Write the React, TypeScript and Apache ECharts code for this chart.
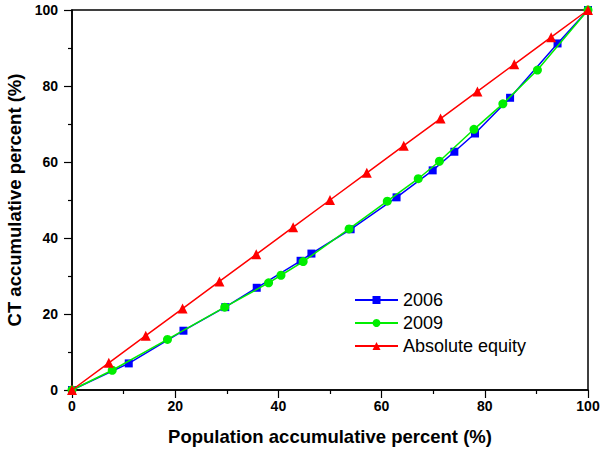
import React, { useEffect, useRef } from "react";
import * as echarts from "echarts";

const seriesNames = ["2006", "2009", "Absolute equity"];

const data2006: [number, number][] = [
  [0, 0], [11.0, 7.0], [21.6, 15.6], [29.7, 21.8], [35.8, 26.9], [44.3, 34.0],
  [46.4, 35.9], [54.0, 42.3], [62.9, 50.7], [69.9, 57.8], [74.1, 62.7],
  [78.1, 67.5], [84.9, 76.9], [94.1, 91.2], [100, 100],
];

const data2009: [number, number][] = [
  [0, 0], [7.8, 5.2], [18.5, 13.3], [29.6, 21.8], [38.1, 28.2], [40.5, 30.2],
  [44.8, 33.8], [53.7, 42.4], [61.1, 49.7], [67.1, 55.6], [71.2, 60.2],
  [77.9, 68.6], [83.5, 75.3], [90.2, 84.2], [100, 100],
];

const dataEquity: [number, number][] = [
  [0, 0], [7.14, 7.14], [14.29, 14.29], [21.43, 21.43], [28.57, 28.57],
  [35.71, 35.71], [42.86, 42.86], [50, 50], [57.14, 57.14], [64.29, 64.29],
  [71.43, 71.43], [78.57, 78.57], [85.71, 85.71], [92.86, 92.86], [100, 100],
];

const xTitle = "Population accumulative percent (%)";
const yTitle = "CT accumulative percent (%)";

export default function App() {
  const ref = useRef<HTMLDivElement>(null);
  useEffect(() => {
    if (!ref.current) return;
    const chart = echarts.init(ref.current, null, { renderer: "svg" });
    const font = "'Liberation Sans', Arial, sans-serif";
    const axisCommon = {
      min: 0,
      max: 100,
      interval: 20,
      axisLine: { show: true, lineStyle: { color: "#000", width: 1.5 } },
      axisTick: { show: true, inside: false, length: 8, lineStyle: { color: "#000", width: 1.2 } },
      minorTick: { show: true, splitNumber: 2, length: 4, lineStyle: { color: "#000", width: 1.2 } },
      splitLine: { show: false },
      axisLabel: { color: "#000", fontFamily: font, fontWeight: "bold", fontSize: 14 },
      nameLocation: "middle" as const,
      nameTextStyle: { color: "#000", fontFamily: font, fontWeight: "bold", fontSize: 18.5 },
    };
    chart.setOption({
      animation: false,
      backgroundColor: "#fff",
      grid: {
        left: 72, right: 12, top: 10, bottom: 60,
        containLabel: false,
        outerBoundsMode: "none",
        show: true, borderColor: "#000", borderWidth: 1.5,
      },
      legend: {
        orient: "vertical",
        left: 349,
        top: 286,
        itemWidth: 43,
        itemHeight: 10,
        itemGap: 5,
        textStyle: { color: "#000", fontFamily: font, fontSize: 18, lineHeight: 18 },
        data: seriesNames,
      },
      xAxis: {
        type: "value",
        ...axisCommon,
        name: xTitle,
        nameGap: 37,
        axisLabel: { ...axisCommon.axisLabel, margin: 9 },
      },
      yAxis: {
        type: "value",
        ...axisCommon,
        name: yTitle,
        nameGap: 38,
        axisLabel: { ...axisCommon.axisLabel, margin: 14 },
      },
      series: [
        {
          name: seriesNames[0],
          type: "line",
          data: data2006,
          color: "#0000ff",
          symbol: "rect",
          symbolSize: 8,
          lineStyle: { width: 1.5, color: "#0000ff" },
          itemStyle: { color: "#0000ff" },
          z: 2,
        },
        {
          name: seriesNames[1],
          type: "line",
          data: data2009,
          color: "#00ee00",
          symbol: "circle",
          symbolSize: 9,
          lineStyle: { width: 1.5, color: "#00ee00" },
          itemStyle: { color: "#00ee00" },
          z: 3,
        },
        {
          name: seriesNames[2],
          type: "line",
          data: dataEquity,
          color: "#ff0000",
          symbol: "triangle",
          symbolSize: 10,
          lineStyle: { width: 1.5, color: "#ff0000" },
          itemStyle: { color: "#ff0000" },
          z: 4,
        },
      ],
    });
    return () => chart.dispose();
  }, []);
  return <div ref={ref} style={{ width: 600, height: 450, position: "absolute", left: 0, top: 0 }} />;
}
